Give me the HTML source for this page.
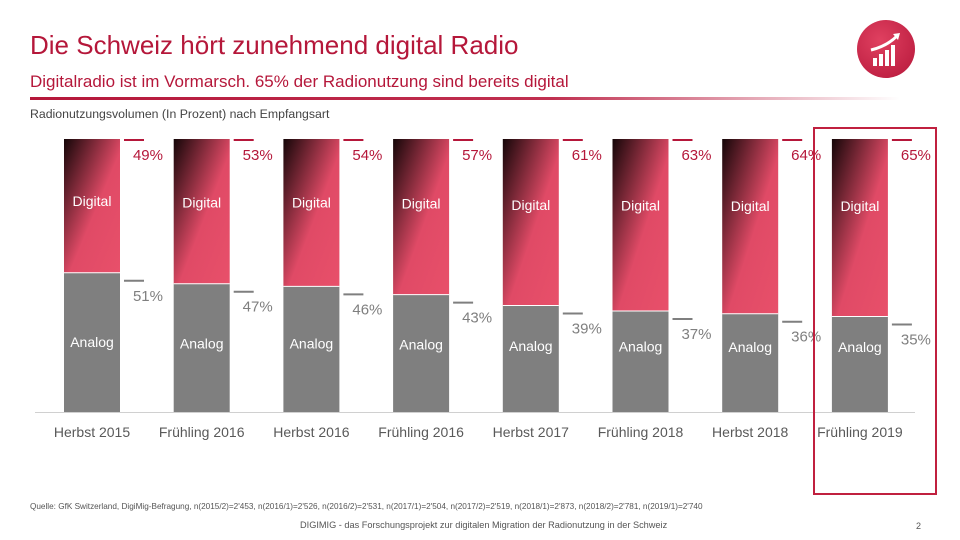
<!DOCTYPE html>
<html><head><meta charset="utf-8"><style>
body{margin:0;width:960px;height:540px;background:#fff;font-family:"Liberation Sans",sans-serif;overflow:hidden;position:relative}
.t{position:absolute;white-space:nowrap}
</style></head><body>
<div class="t" style="left:30px;top:30px;font-size:26px;color:#b5173a">Die Schweiz hört zunehmend digital Radio</div>
<div class="t" style="left:30px;top:72px;font-size:17px;color:#b5173a">Digitalradio ist im Vormarsch. 65% der Radionutzung sind bereits digital</div>
<div style="position:absolute;left:30px;top:97px;width:870px;height:3px;background:linear-gradient(90deg,#b5173a 0%,#c03050 60%,#fff 100%)"></div>
<div class="t" style="left:30px;top:107px;font-size:12.3px;color:#444">Radionutzungsvolumen (In Prozent) nach Empfangsart</div>
<div style="position:absolute;left:857px;top:20px;width:58px;height:58px;border-radius:50%;background:radial-gradient(circle at 40% 35%,#e04060,#b5173a)">
<svg width="58" height="58"><g fill="#fff"><rect x="16" y="38" width="4" height="8"/><rect x="22" y="34" width="4" height="12"/><rect x="28" y="30" width="4" height="16"/><rect x="34" y="25" width="4" height="21"/></g><path d="M14 30 Q30 26 40 16" stroke="#fff" stroke-width="3" fill="none"/><path d="M36 14 L43 13 L41 20Z" fill="#fff"/></svg></div>
<svg id="chart" width="960" height="540" style="position:absolute;left:0;top:0">
<defs><linearGradient id="dg" x1="0" y1="0" x2="1" y2="1"><stop offset="0" stop-color="#150608"/><stop offset="0.55" stop-color="#e04a66"/><stop offset="1" stop-color="#e8506a"/></linearGradient></defs>
</svg>
<div style="position:absolute;left:813px;top:127px;width:120px;height:364px;border:2px solid #c0203f"></div>
<div class="t" style="left:30px;top:502px;font-size:8.2px;color:#555">Quelle: GfK Switzerland, DigiMig-Befragung, n(2015/2)=2'453, n(2016/1)=2'526, n(2016/2)=2'531, n(2017/1)=2'504, n(2017/2)=2'519, n(2018/1)=2'873, n(2018/2)=2'781, n(2019/1)=2'740</div>
<div class="t" style="left:300px;top:520px;font-size:9.2px;color:#555">DIGIMIG - das Forschungsprojekt zur digitalen Migration der Radionutzung in der Schweiz</div>
<div class="t" style="left:916px;top:521px;font-size:9px;color:#555">2</div>
<script>
const categories=["Herbst 2015","Frühling 2016","Herbst 2016","Frühling 2016","Herbst 2017","Frühling 2018","Herbst 2018","Frühling 2019"];
const digital=[49,53,54,57,61,63,64,65];
const analog=[51,47,46,43,39,37,36,35];
const svg=document.getElementById('chart');const NS="http://www.w3.org/2000/svg";
const top0=139,bot=412,x0=64,pitch=109.7,bw=56;
const y=v=>bot-(v/100)*(bot-top0);
function mk(t,a,txt){const e=document.createElementNS(NS,t);for(const k in a)e.setAttribute(k,a[k]);if(txt!=null)e.textContent=txt;svg.appendChild(e);return e;}
const ax=mk('line',{x1:35,x2:915,y1:bot+0.5,y2:bot+0.5,stroke:'#d0d0d0'});


categories.forEach((c,i)=>{
 const x=x0+i*pitch;const ys=y(analog[i]);
 const shift=(ys-y(analog[0]))*0.12;
 const a=mk('rect',{x:x,y:ys,width:bw,height:bot-ys,fill:'#7f7f7f'});
 
 
 const d=mk('rect',{x:x,y:top0,width:bw,height:ys-top0,fill:'url(#dg)'});
 
 
 mk('line',{x1:x,x2:x+bw,y1:ys,y2:ys,stroke:'#fff','stroke-width':1});
 const dl=mk('text',{x:x+bw/2,y:top0+67+shift,'text-anchor':'middle','font-size':14,fill:'#fff'},'Digital');
 
 
 const al=mk('text',{x:x+bw/2,y:347+shift,'text-anchor':'middle','font-size':14,fill:'#fff'},'Analog');
 
 
 mk('line',{x1:x+bw+4,x2:x+bw+24,y1:top0+1,y2:top0+1,stroke:'#b5173a','stroke-width':2});
 const dp=mk('text',{x:x+bw+43,y:top0+21,'text-anchor':'end','font-size':15,fill:'#b5173a'},digital[i]+'%');
 
 
 mk('line',{x1:x+bw+4,x2:x+bw+24,y1:ys+8,y2:ys+8,stroke:'#7f7f7f','stroke-width':2});
 const ap=mk('text',{x:x+bw+43,y:ys+28,'text-anchor':'end','font-size':15,fill:'#7f7f7f'},analog[i]+'%');
 
 
 const cl=mk('text',{x:x+bw/2,y:437,'text-anchor':'middle','font-size':14,fill:'#595959'},c);
 
 
});
</script>
</body></html>
